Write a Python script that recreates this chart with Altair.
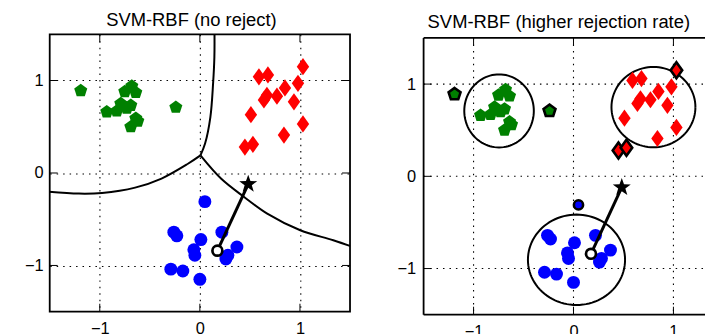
import altair as alt
import numpy as np
import pandas as pd

FONT = "Liberation Sans"
GREEN, RED, BLUE = "#008000", "#ff0000", "#0000ff"

# ---- training samples, three classes (rej = 1: rejected by the reject-option SVM) ----
green_x = [-1.19, -0.93, -0.83, -0.79, -0.75, -0.68, -0.64, -0.69, -0.73, -0.64, -0.62, -0.69, -0.24]
green_y = [0.89, 0.66, 0.67, 0.75, 0.88, 0.94, 0.87, 0.73, 0.70, 0.59, 0.56, 0.50, 0.71]
green_rej = [1, 0, 0, 0, 0, 0, 0, 0, 0, 0, 0, 0, 1]

red_x = [1.03, 0.59, 0.68, 0.98, 0.85, 0.67, 0.64, 0.77, 0.94, 0.51, 1.03, 0.84, 0.45, 0.53]
red_y = [1.15, 1.04, 1.06, 0.97, 0.92, 0.84, 0.79, 0.83, 0.77, 0.63, 0.53, 0.41, 0.28, 0.31]
red_rej = [1, 0, 0, 0, 0, 0, 0, 0, 0, 0, 0, 0, 1, 1]

blue_x = [0.05, -0.26, -0.23, 0.22, 0.01, -0.06, -0.05, 0.37, 0.28, 0.26, -0.29, -0.17, 0.00]
blue_y = [-0.31, -0.64, -0.68, -0.64, -0.72, -0.83, -0.89, -0.80, -0.89, -0.93, -1.04, -1.06, -1.15]
blue_rej = [1, 0, 0, 0, 0, 0, 0, 0, 0, 0, 0, 0, 0]

# ---- evasion path: original sample -> adversarial point ----
adv_x = [0.175, 0.483]
adv_y = [-0.84, -0.12]

# ---- decision boundaries of the plain multiclass SVM ----
bnd_upper_x = [0.006, 0.052, 0.105, 0.132, 0.145, 0.146]
bnd_upper_y = [0.19, 0.318, 0.605, 0.966, 1.254, 1.53]
bnd_left_x = [0.006, -0.119, -0.383, -0.647, -0.977, -1.208, -1.53]
bnd_left_y = [0.19, 0.10, -0.06, -0.158, -0.216, -0.223, -0.20]
bnd_right_x = [0.006, 0.211, 0.442, 0.673, 1.003, 1.333, 1.53]
bnd_right_y = [0.19, -0.06, -0.259, -0.439, -0.619, -0.727, -0.80]

# ---- closed acceptance regions of the reject-option SVM (center, half-axes) ----
reg_cx = [-0.745, 0.80, 0.03]
reg_cy = [0.709, 0.75, -0.905]
reg_rx = [0.348, 0.42, 0.486]
reg_ry = [0.396, 0.435, 0.49]

TICK_VALUES = [-1, 0, 1]
LIM = 1.5  # axes limits: [-LIM, LIM] on both axes


def polygon_path(n, inner=None):
    pts = []
    steps = 2 * n if inner is not None else n
    for k in range(steps):
        a = np.deg2rad(-90 + 360.0 * k / steps)
        r = 1.0 if (inner is None or k % 2 == 0) else inner
        pts.append(f"{r * np.cos(a):.4f},{r * np.sin(a):.4f}")
    return "M" + "L".join(pts) + "Z"


PENTAGON = polygon_path(5)
STAR = polygon_path(5, inner=0.40)
THIN_DIAMOND = "M0,-1L0.72,0L0,1L-0.72,0Z"

boundaries = pd.concat([
    pd.DataFrame({"x": bnd_upper_x, "y": bnd_upper_y, "curve": "upper", "i": range(len(bnd_upper_x))}),
    pd.DataFrame({"x": bnd_left_x, "y": bnd_left_y, "curve": "left", "i": range(len(bnd_left_x))}),
    pd.DataFrame({"x": bnd_right_x, "y": bnd_right_y, "curve": "right", "i": range(len(bnd_right_x))}),
])

t = np.linspace(0, 2 * np.pi, 97)
regions = pd.concat([
    pd.DataFrame({"x": cx + rx * np.cos(t), "y": cy + ry * np.sin(t), "region": k, "i": range(len(t))})
    for k, (cx, cy, rx, ry) in enumerate(zip(reg_cx, reg_cy, reg_rx, reg_ry))
])

green = pd.DataFrame({"x": green_x, "y": green_y, "rej": green_rej})
red = pd.DataFrame({"x": red_x, "y": red_y, "rej": red_rej})
blue = pd.DataFrame({"x": blue_x, "y": blue_y, "rej": blue_rej})
adv = pd.DataFrame({"x": adv_x, "y": adv_y, "i": [0, 1]})
ticks = pd.DataFrame({"v": TICK_VALUES})
one = pd.DataFrame({"k": [0]})

# (samples, marker path, colour, marker size, size of the outlined rejected marker)
CLASSES = [
    (green, PENTAGON, GREEN, 190, 160),
    (red, THIN_DIAMOND, RED, 300, 260),
    (blue, "circle", BLUE, 169, 85),
]

GRID = dict(color="black", strokeDash=[1.5, 5], strokeWidth=1.1)


def panel(title, xdom, ydom, width, height, reject, ylab_pad, title_offset, title_dx):
    common = dict(values=TICK_VALUES, format="d", domain=False, ticks=False, labelFont=FONT,
                  labelFontSize=16.5, labelColor="black", title=None)
    grid = dict(grid=True, gridColor="black", gridDash=[1.5, 5], gridWidth=1.1, gridOpacity=1)
    if reject:
        grid = dict(grid=False)
    xaxis = alt.Axis(labelPadding=8.5, **common, **grid)
    yaxis = alt.Axis(labelPadding=ylab_pad, **common, **grid)

    def X(f):
        return alt.X(f"{f}:Q", scale=alt.Scale(domain=xdom, nice=False, zero=False), axis=xaxis)

    def Y(f):
        return alt.Y(f"{f}:Q", scale=alt.Scale(domain=ydom, nice=False, zero=False), axis=yaxis)

    layers = []
    if reject:
        # dotted grid limited to the axes box
        layers.append(alt.Chart(ticks).mark_rule(**GRID)
                      .encode(x=X("v"), y=alt.datum(LIM), y2=alt.datum(-LIM)))
        layers.append(alt.Chart(ticks).mark_rule(**GRID)
                      .encode(y=Y("v"), x=alt.value(0), x2=alt.value(width)))
        layers.append(alt.Chart(regions).mark_line(color="black", strokeWidth=2, clip=True)
                      .encode(x=X("x"), y=Y("y"), detail="region:N", order="i:Q"))
    else:
        layers.append(alt.Chart(boundaries).mark_line(color="black", strokeWidth=2, clip=True,
                                                      interpolate="catmull-rom")
                      .encode(x=X("x"), y=Y("y"), detail="curve:N", order="i:Q"))

    for df, shape, color, size, rsize in CLASSES:
        plain = df[df.rej == 0] if reject else df
        layers.append(alt.Chart(plain).mark_point(shape=shape, filled=True, color=color, size=size,
                                                  opacity=1, strokeWidth=0, clip=True)
                      .encode(x=X("x"), y=Y("y")))
        if reject:
            layers.append(alt.Chart(df[df.rej == 1]).mark_point(shape=shape, filled=True, fill=color,
                                                                stroke="black", strokeWidth=2.6,
                                                                size=rsize, opacity=1, clip=True)
                          .encode(x=X("x"), y=Y("y")))

    layers.append(alt.Chart(adv).mark_line(color="black", strokeWidth=3)
                  .encode(x=X("x"), y=Y("y"), order="i:Q"))
    layers.append(alt.Chart(adv.iloc[[0]]).mark_point(shape="circle", filled=True, fill="white",
                                                      stroke="black", strokeWidth=2.7, size=100, opacity=1)
                  .encode(x=X("x"), y=Y("y")))
    layers.append(alt.Chart(adv.iloc[[1]]).mark_point(shape=STAR, filled=True, color="black",
                                                      size=361, opacity=1, strokeWidth=0)
                  .encode(x=X("x"), y=Y("y")))

    # inward tick marks
    tl = 8
    tl_y = tl * (ydom[1] - ydom[0]) / height
    layers.append(alt.Chart(ticks).mark_rule(color="black", strokeWidth=1)
                  .encode(y=Y("v"), x=alt.value(0), x2=alt.value(tl)))
    layers.append(alt.Chart(ticks).mark_rule(color="black", strokeWidth=1)
                  .encode(x=X("v"), y=alt.datum(-LIM), y2=alt.datum(-LIM + tl_y)))
    layers.append(alt.Chart(ticks).mark_rule(color="black", strokeWidth=1)
                  .encode(x=X("v"), y=alt.datum(LIM), y2=alt.datum(LIM - tl_y)))
    if not reject:
        layers.append(alt.Chart(ticks).mark_rule(color="black", strokeWidth=1)
                      .encode(y=Y("v"), x=alt.value(width - tl), x2=alt.value(width)))
        view = alt.ViewBackground(stroke="black", strokeWidth=1.8)
    else:
        # axes frame on the three visible sides
        frame = dict(color="black", strokeWidth=1.8)
        layers.append(alt.Chart(one).mark_rule(**frame)
                      .encode(x=alt.value(0), y=alt.datum(LIM), y2=alt.datum(-LIM)))
        layers.append(alt.Chart(one).mark_rule(**frame)
                      .encode(y=alt.datum(LIM), x=alt.value(0), x2=alt.value(width)))
        layers.append(alt.Chart(one).mark_rule(**frame)
                      .encode(y=alt.datum(-LIM), x=alt.value(0), x2=alt.value(width)))
        view = alt.ViewBackground(stroke="transparent", strokeWidth=0)

    return alt.layer(*layers).properties(
        width=width, height=height, view=view,
        title=alt.TitleParams(title, font=FONT, fontSize=18.5, fontWeight="normal", color="black",
                              anchor="middle", frame="group",
                              offset=title_offset, dx=title_dx),
    )


left = panel("SVM-RBF (no reject)", [-LIM, LIM], [-LIM, LIM], 302, 279, False, 6.6, 4, -8.5)
right = panel("SVM-RBF (higher rejection rate)", [-LIM, 1.316], [-LIM, 1.54], 283, 282, True, 8, 3, -5.5)

chart = alt.hconcat(left, right, spacing=45).properties(
    padding={"left": 23, "top": 9.5, "right": 0, "bottom": 0},
    background="white",
)

chart.save("out.html", embed_options={"renderer": "svg", "actions": False})
